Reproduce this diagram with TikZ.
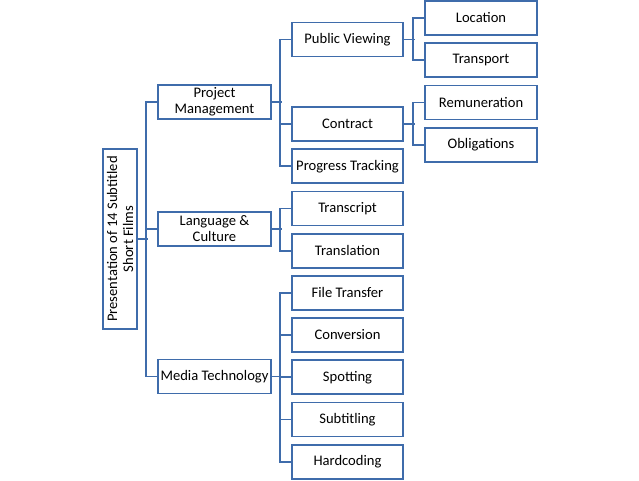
\documentclass[tikz,border=0pt]{standalone}
\usepackage{fontspec}
\setmainfont{Carlito}
\definecolor{boxblue}{RGB}{63,108,171}
\begin{document}
\begin{tikzpicture}[x=1pt,y=-1pt,
  box/.style={draw=boxblue,line width=1.8pt,fill=white,rectangle,inner sep=0pt,
    minimum height=34pt,align=center,font=\fontsize{14.6}{16}\selectfont},
  lone/.style={box,minimum width=113pt},
  ltwo/.style={box,minimum width=111pt},
  lthree/.style={box,minimum width=112pt},
  conn/.style={draw=boxblue,line width=1.8pt}]
\useasboundingbox (0,0) rectangle (639,480);
% root
\node[box,minimum width=180pt,minimum height=34pt,rotate=90] (root) at (120,239) {Presentation of 14 Subtitled\\Short Films};
% level 1
\node[lone] (pm) at (214.5,102) {Project\\Management};
\node[lone] (lc) at (214.5,229) {Language \&\\Culture};
\node[lone] (mt) at (214.5,376.5) {Media Technology};
% level 2
\node[ltwo] (pv) at (347.5,39.5) {Public Viewing};
\node[ltwo] (ct) at (347.5,124) {Contract};
\node[ltwo] (pt) at (347.5,166.2) {Progress Tracking};
\node[ltwo] (tc) at (347.5,208.4) {Transcript};
\node[ltwo] (tl) at (347.5,250.6) {Translation};
\node[ltwo] (ft) at (347.5,292.8) {File Transfer};
\node[ltwo] (cv) at (347.5,335) {Conversion};
\node[ltwo] (sp) at (347.5,377.2) {Spotting};
\node[ltwo] (st) at (347.5,419.4) {Subtitling};
\node[ltwo] (hc) at (347.5,461.6) {Hardcoding};
% level 3
\node[lthree] (lo) at (481,18) {Location};
\node[lthree] (tr) at (481,60.2) {Transport};
\node[lthree] (re) at (481,102.4) {Remuneration};
\node[lthree] (ob) at (481,144.6) {Obligations};
% connectors root
\draw[conn] (root.south) -- ++(10,0) coordinate (rb);
\draw[conn] (pm.west) -- ++(-11,0) |- (mt.west);
\draw[conn] (lc.west) -- ++(-11,0);
% PM
\draw[conn] (pm.east) -- ++(10,0);
\draw[conn] (pv.west) -- ++(-11,0) |- (pt.west);
\draw[conn] (ct.west) -- ++(-11,0);
% LC
\draw[conn] (lc.east) -- ++(10,0);
\draw[conn] (tc.west) -- ++(-11,0) |- (tl.west);
% MT
\draw[conn] (mt.east) -- ++(10,0);
\draw[conn] (ft.west) -- ++(-11,0) |- (hc.west);
\draw[conn] (cv.west) -- ++(-11,0);
\draw[conn] (sp.west) -- ++(-11,0);
\draw[conn] (st.west) -- ++(-11,0);
% PV
\draw[conn] (pv.east) -- ++(11,0);
\draw[conn] (lo.west) -- ++(-11,0) |- (tr.west);
% Contract
\draw[conn] (ct.east) -- ++(11,0);
\draw[conn] (re.west) -- ++(-11,0) |- (ob.west);
\end{tikzpicture}
\end{document}
